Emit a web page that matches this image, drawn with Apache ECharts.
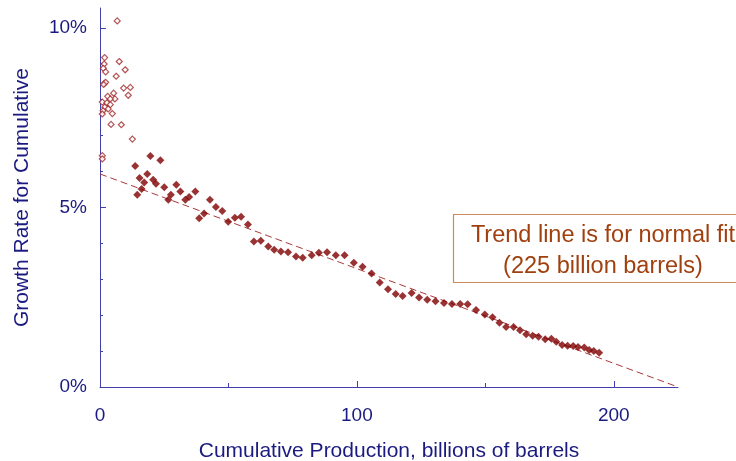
<!DOCTYPE html>
<html>
<head>
<meta charset="utf-8">
<script src="https://cdn.jsdelivr.net/npm/echarts@6/dist/echarts.min.js"></script>
<style>html,body{margin:0;padding:0;background:#fff}#c{width:736px;height:461px}</style>
</head>
<body>
<div id="c"></div>
<script>
// Early years (hollow diamonds): cumulative production (billion bbl) and growth rate (%)
const earlyX = [6.7, 1.8, 7.5, 1.6, 1.3, 9.8, 2.2, 6.3, 1.7, 2.2, 1.4, 9.2, 11.8, 11.0, 3.0, 5.3, 5.8, 4.0, 0.9, 2.7, 4.0, 1.9, 3.2, 1.2, 4.8, 0.9, 4.3, 8.3, 12.6, 0.9, 0.9];
const earlyY = [10.19, 9.17, 9.06, 8.99, 8.87, 8.83, 8.77, 8.65, 8.45, 8.48, 8.42, 8.32, 8.34, 8.12, 8.09, 8.18, 8.02, 8.02, 7.93, 7.91, 7.86, 7.79, 7.74, 7.69, 7.61, 7.60, 7.31, 7.30, 6.90, 6.44, 6.35];
// Later years (filled diamonds)
const laterX = [13.7, 14.5, 15.4, 16.2, 17.2, 18.4, 19.6, 20.7, 21.8, 23.5, 25.0, 26.6, 27.6, 29.7, 31.3, 33.2, 34.7, 37.1, 38.6, 40.5, 42.8, 45.1, 47.6, 49.9, 52.5, 54.9, 57.6, 59.9, 62.6, 65.5, 67.8, 70.4, 73.2, 76.3, 78.9, 82.4, 85.2, 88.4, 91.8, 95.2, 98.8, 102.2, 105.7, 108.9, 112.1, 115.1, 117.8, 121.3, 124.2, 127.4, 130.6, 133.9, 137.0, 140.2, 143.1, 146.4, 149.8, 152.8, 155.5, 158.1, 161.0, 163.5, 165.9, 168.4, 170.7, 173.3, 175.7, 177.6, 179.9, 182.0, 184.2, 186.1, 188.5, 190.4, 192.2, 194.3];
const laterY = [6.15, 5.35, 5.82, 5.51, 5.69, 5.93, 6.43, 5.77, 5.66, 6.31, 5.56, 5.21, 5.35, 5.63, 5.44, 5.21, 5.29, 5.44, 4.70, 4.83, 5.21, 5.01, 4.90, 4.60, 4.71, 4.74, 4.52, 4.05, 4.07, 3.91, 3.82, 3.77, 3.75, 3.63, 3.60, 3.67, 3.74, 3.75, 3.67, 3.67, 3.46, 3.35, 3.16, 2.91, 2.72, 2.59, 2.53, 2.62, 2.49, 2.43, 2.39, 2.34, 2.31, 2.31, 2.30, 2.14, 2.02, 1.94, 1.79, 1.67, 1.67, 1.58, 1.47, 1.43, 1.40, 1.33, 1.34, 1.26, 1.17, 1.15, 1.14, 1.11, 1.10, 1.03, 1.00, 0.95];
// Trend line (normal fit, URR 225)
const trendX = [0, 225];
const trendY = [5.93, 0];
// Ticks / labels
const xLabelTicks = [0, 100, 200];
const xMinorTicks = [50, 150];
const yLabelTicks = [0, 5, 10];
const yMinorTicks = [1, 2, 3, 4, 6, 7, 8, 9];
const noteLines = ['Trend line is for normal fit', '(225 billion barrels)'];

const pairs = (xs, ys) => xs.map((x, i) => [x, ys[i]]);
const FONT = '"Liberation Sans", Arial, sans-serif';
const NAVY = '#1a1a80';
const AXIS = '#4040a8';

const chart = echarts.init(document.getElementById('c'), null, {renderer: 'canvas'});
chart.setOption({
  animation: false,
  backgroundColor: '#ffffff',
  grid: {left: 100, right: 58, top: 8, bottom: 74, containLabel: false, outerBoundsMode: 'none'},
  xAxis: [{
    type: 'value', min: 0, max: 225, position: 'bottom',
    axisLine: {show: true, onZero: false, lineStyle: {color: AXIS, width: 1}},
    axisTick: {show: true, inside: true, length: 4, customValues: xMinorTicks, lineStyle: {color: AXIS}},
    axisLabel: {customValues: xLabelTicks, margin: 19, color: NAVY, fontSize: 19, fontFamily: FONT},
    splitLine: {show: false},
    name: 'Cumulative Production, billions of barrels', nameLocation: 'middle', nameGap: 54,
    nameTextStyle: {color: NAVY, fontSize: 21, fontFamily: FONT}
  }, {
    type: 'value', min: 0, max: 225, position: 'bottom',
    axisLine: {show: false},
    axisTick: {show: true, inside: true, length: 6, customValues: xLabelTicks, lineStyle: {color: AXIS}},
    axisLabel: {show: false}, splitLine: {show: false}
  }],
  yAxis: [{
    type: 'value', min: 0, max: 10.55, position: 'left',
    axisLine: {show: true, onZero: false, lineStyle: {color: AXIS, width: 1}},
    axisTick: {show: true, inside: true, length: 3, customValues: yMinorTicks, lineStyle: {color: AXIS}},
    axisLabel: {customValues: yLabelTicks, formatter: v => v + '%', margin: 13, verticalAlign: 'middle',
      color: NAVY, fontSize: 19, fontFamily: FONT},
    splitLine: {show: false},
    name: 'Growth Rate for Cumulative', nameLocation: 'middle', nameGap: 67,
    nameTextStyle: {color: NAVY, fontSize: 21, fontFamily: FONT}
  }, {
    type: 'value', min: 0, max: 10.55, position: 'left',
    axisLine: {show: false},
    axisTick: {show: true, inside: true, length: 6, customValues: yLabelTicks, lineStyle: {color: AXIS}},
    axisLabel: {show: false}, splitLine: {show: false}
  }],
  series: [{
    type: 'line', data: pairs(trendX, trendY), showSymbol: false, symbol: 'none',
    lineStyle: {color: '#a83a3a', width: 1, type: [7, 4]}, z: 1, silent: true
  }, {
    type: 'scatter', data: pairs(earlyX, earlyY), symbol: 'diamond', symbolSize: 6,
    itemStyle: {color: '#ffffff', borderColor: '#a02a2a', borderWidth: 1.2}, z: 3
  }, {
    type: 'scatter', data: pairs(laterX, laterY), symbol: 'diamond', symbolSize: 8,
    itemStyle: {color: '#800000'}, z: 3
  }],
  graphic: [{
    type: 'rect', shape: {x: 453.5, y: 214.5, width: 300, height: 68},
    style: {fill: '#ffffff', stroke: '#c98a5e', lineWidth: 1.2}, z: 10
  }, {
    type: 'text', x: 603, y: 236, z: 11,
    style: {text: noteLines[0], align: 'center', verticalAlign: 'middle', textAlign: 'center', textVerticalAlign: 'middle',
      fontSize: 23.5, fontFamily: FONT, fill: '#a0400f'}
  }, {
    type: 'text', x: 603, y: 267, z: 11,
    style: {text: noteLines[1], align: 'center', verticalAlign: 'middle', textAlign: 'center', textVerticalAlign: 'middle',
      fontSize: 23.5, fontFamily: FONT, fill: '#a0400f'}
  }]
});
</script>
</body>
</html>
